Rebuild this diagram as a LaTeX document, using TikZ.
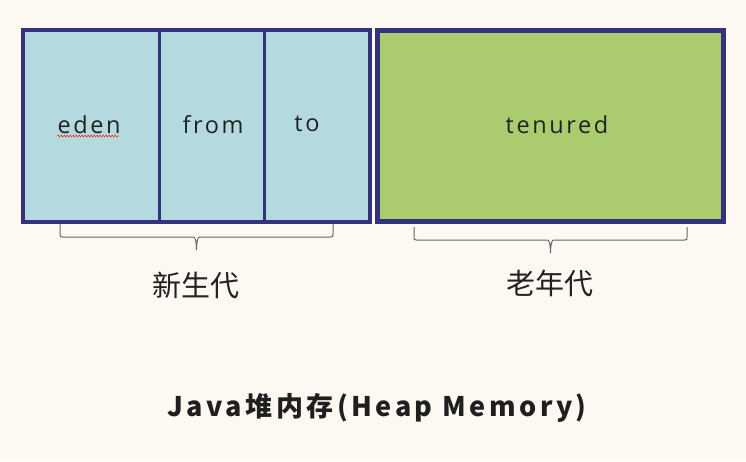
\documentclass[tikz,border=0pt]{standalone}
\usepackage{fontspec}
\setmainfont{Open Sans}
\newfontfamily\cjk{Noto Sans CJK SC}
\usetikzlibrary{positioning,calc,decorations.pathmorphing}

\definecolor{paper}{HTML}{FDF9F2}
\definecolor{navy}{HTML}{33337B}
\definecolor{young}{HTML}{B4DADF}
\definecolor{old}{HTML}{AACC6E}
\definecolor{ink}{HTML}{222222}

\tikzset{
	region/.style={draw=navy,line width=3,fill=young,inner sep=0,outer sep=0,minimum height=192},
	lbl/.style={text=ink,inner sep=0,anchor=base,font=\fontsize{23.5}{23.5}\selectfont\addfontfeature{LetterSpace=11}},
	span/.style={draw=black!60,line width=1},
	gen/.style={text=ink,inner sep=0,font=\cjk\fontsize{29}{29}\selectfont},
	heading/.style={text=ink!90!black,inner sep=0,font=\cjk\bfseries\fontsize{27}{27}\selectfont\addfontfeature{LetterSpace=13}}
}

% brace under a generation, from #1 to #2
\newcommand\genbrace[2]{
	\draw[span] (#1) -- ++(0,10) .. controls +(0,2.5) and +(-2.5,0) .. ++(2.5,3)
		-- ($(#1)!0.5!(#2)+(-3,13)$) .. controls +(2,0) and +(0,-7) .. ($(#1)!0.5!(#2)+(0,26)$)
		.. controls +(0,-7) and +(-2,0) .. ($(#1)!0.5!(#2)+(3,13)$)
		-- ($(#2)+(-2.5,13)$) .. controls +(2.5,0) and +(0,2.5) .. ($(#2)+(0,10)$) -- (#2);
}

\begin{document}
\begin{tikzpicture}[x=1pt,y=-1pt]
	\fill[paper] (0,0) rectangle (746,461);
	\useasboundingbox (0,0) rectangle (746,461);
	
	% young generation
	\node[region,minimum width=136,anchor=north west] (eden) at (23,30) {};
	\node[region,minimum width=105,anchor=north west] (from) at (eden.north east) {};
	\node[region,minimum width=105.5,anchor=north west] (to) at (from.north east) {};
	\draw[navy,line width=4] (eden.north west) rectangle (to.south east);
	
	% old generation
	\node[region,fill=old,line width=5,minimum width=346,minimum height=191,anchor=north west] (tenured) at (377.5,30.5) {};
	
	\node[lbl] (edenlbl) at (89,133) {eden};
	\node[lbl] (fromlbl) at (213,133) {from};
	\node[lbl] (tolbl) at (307,131) {to};
	\node[lbl] (tenuredlbl) at (557,133) {tenured};
	\draw[red!85,line width=0.6,decorate,decoration={snake,amplitude=0.9,segment length=3}]
		([yshift=-3]edenlbl.base west) -- ([yshift=-3,xshift=-2]edenlbl.base east);
	
	% braces
	\coordinate (yl) at (60,224);
	\coordinate (yr) at (333,224);
	\coordinate (ol) at (414,227);
	\coordinate (or) at (687,227);
	\genbrace{yl}{yr}
	\genbrace{ol}{or}
	
	\node[gen] (younggen) at (196,285) {新生代};
	\node[gen] (oldgen) at (550,283) {老年代};
	
	\node[heading] (heap) at (377,408) {Java堆内存(Heap Memory)};
\end{tikzpicture}
\end{document}
